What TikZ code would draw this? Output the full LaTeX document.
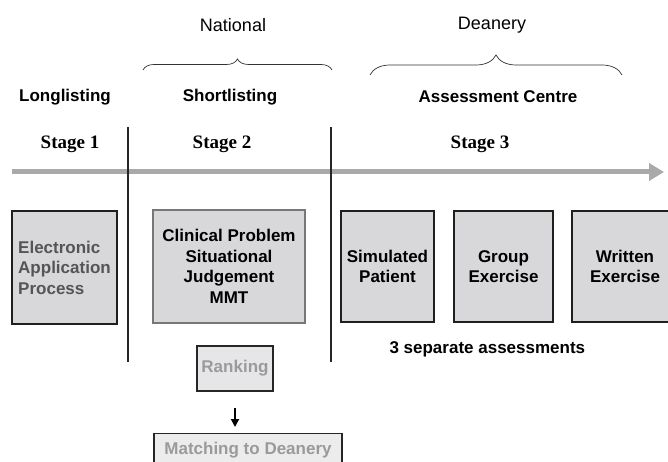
\documentclass[tikz,border=0pt]{standalone}
\usepackage{fontspec}
\setmainfont{Liberation Sans}
\newfontfamily\stagefont{Liberation Serif}
\usetikzlibrary{decorations.pathreplacing,arrows.meta}
\definecolor{boxfill}{HTML}{D8D8DA}
\definecolor{lightfill}{HTML}{E6E6E8}
\definecolor{palefill}{HTML}{ECECEC}
\definecolor{timeline}{HTML}{A9A9AB}
\definecolor{darktxt}{HTML}{555555}
\definecolor{paletxt}{HTML}{9A9A9A}
\definecolor{clinborder}{HTML}{777777}
\tikzset{
  sanstxt/.style={font=\fontsize{17}{20.5}\selectfont\bfseries},
  headtxt/.style={font=\fontsize{18}{21}\selectfont},
  stagetxt/.style={font=\fontsize{19}{22}\selectfont\stagefont\bfseries},
  stagebox/.style={draw=black!88, line width=2.6pt, fill=boxfill, inner sep=0pt,
    sanstxt, align=center},
  sepline/.style={line width=1.3pt, black!85},
  bracedeco/.style={decorate, line width=0.7pt, black!80},
}
\begin{document}
\begin{tikzpicture}[x=1pt,y=-1pt]
\useasboundingbox (0,0) rectangle (668,462);
% headings
\node[headtxt] (national) at (233,25) {National};
\node[headtxt] (deanery) at (492,25) {Deanery};
\draw[bracedeco, decoration={brace, amplitude=11pt}] (143,70) -- (332,70);
\draw[bracedeco, decoration={brace, amplitude=20pt}] (370,75) -- (622,75);
\node[sanstxt] (long) at (65,97) {Longlisting};
\node[sanstxt] (short) at (230,97) {Shortlisting};
\node[sanstxt] (assess) at (498,97) {Assessment Centre};
\node[stagetxt] (s1) at (70,144) {Stage 1};
\node[stagetxt] (s2) at (222,144) {Stage 2};
\node[stagetxt] (s3) at (480,144) {Stage 3};
% timeline
\coordinate (tl0) at (12,172);
\coordinate (tl1) at (664,172);
\draw[timeline, line width=5pt, -{Triangle[length=15pt,width=17pt]}] (tl0) -- (tl1);
% separators
\coordinate (v1a) at (128,127); \coordinate (v1b) at (128,362);
\coordinate (v2a) at (331,127); \coordinate (v2b) at (331,362);
\draw[sepline] (v1a) -- (v1b);
\draw[sepline] (v2a) -- (v2b);
% boxes
\node[stagebox, line width=2pt, minimum width=105pt, minimum height=113pt,
  text=darktxt, align=left] (elec) at (64.5,267.5)
  {Electronic\\Application\\Process};
\node[stagebox, draw=clinborder, line width=2.8pt, minimum width=152pt, minimum height=113pt] (clin) at (229,266.5)
  {Clinical Problem\\Situational\\Judgement\\MMT};
\node[stagebox, minimum width=93pt, minimum height=111pt] (sim) at (387.5,266.5) {Simulated\\Patient};
\node[stagebox, minimum width=99pt, minimum height=111pt] (group) at (503.5,266.5) {Group\\Exercise};
\node[stagebox, minimum width=106pt, minimum height=111pt] (written) at (625,266.5) {Written\\Exercise};
\node[draw=black!85, line width=1.1pt, fill=lightfill, sanstxt, text=paletxt,
  minimum width=76pt, minimum height=45pt, inner sep=0pt] (rank) at (235,368.5) {Ranking};
\node[draw=black!85, line width=1.1pt, fill=palefill, sanstxt, text=paletxt,
  minimum width=188pt, minimum height=34pt, inner sep=0pt, anchor=north] (match) at (248,433)
  {Matching to Deanery};
\draw[line width=1.8pt, -{Triangle[length=8pt,width=8pt]}, shorten <=16pt, shorten >=6pt]
  (rank.south) -- (rank.south |- match.north);
\node[sanstxt, anchor=west] (three) at (386,349) {3 separate assessments};
\end{tikzpicture}
\end{document}
